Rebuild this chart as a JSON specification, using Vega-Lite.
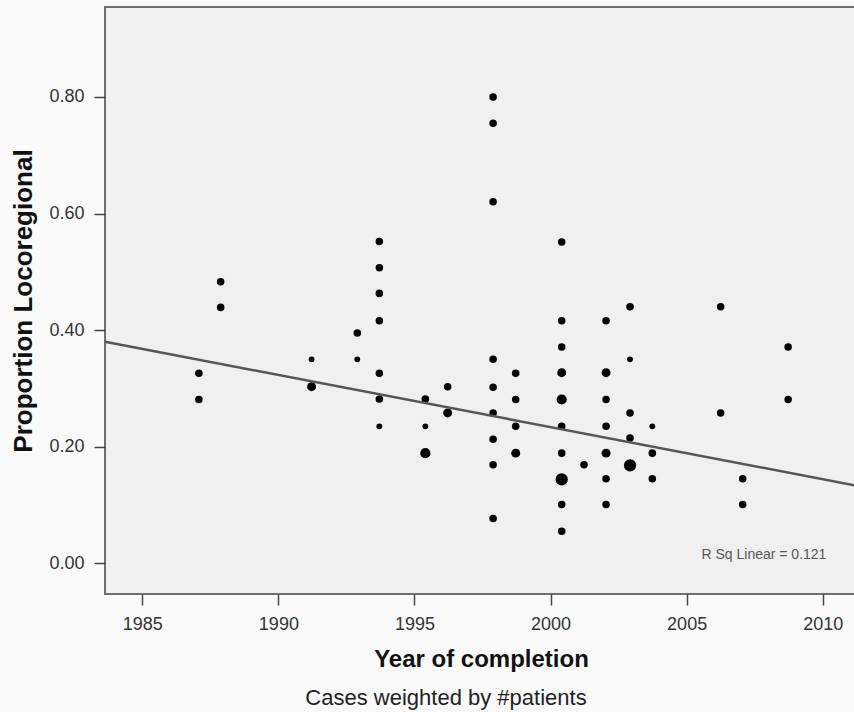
{
  "$schema": "https://vega.github.io/schema/vega-lite/v6.json",
  "width": 752,
  "height": 587,
  "autosize": {"type": "none"},
  "padding": {"left": 105, "top": 7, "right": 0, "bottom": 118},
  "background": "#fafafa",
  "title": {
    "text": "Cases weighted by #patients",
    "orient": "bottom",
    "anchor": "middle",
    "dx": -35,
    "offset": 17,
    "fontSize": 22,
    "fontWeight": "normal",
    "font": "Liberation Sans",
    "color": "#222222"
  },
  "config": {
    "view": {"fill": "#f0f0f0", "stroke": "#6e6e6e", "strokeWidth": 2},
    "axis": {
      "domain": false,
      "grid": false,
      "tickColor": "#444444",
      "tickWidth": 1.5,
      "tickSize": 11,
      "labelFont": "Liberation Sans",
      "labelFontSize": 18,
      "labelColor": "#333333",
      "labelPadding": 10,
      "titleFont": "Liberation Sans",
      "titleFontSize": 24,
      "titleFontWeight": "bold",
      "titleColor": "#111111"
    }
  },
  "datasets": {
    "points": [
      {"year": 1987.08, "proportion": 0.326, "n": 2},
      {"year": 1987.08, "proportion": 0.281, "n": 2},
      {"year": 1987.88, "proportion": 0.483, "n": 2},
      {"year": 1987.88, "proportion": 0.439, "n": 2},
      {"year": 1991.22, "proportion": 0.350, "n": 1},
      {"year": 1991.22, "proportion": 0.303, "n": 3},
      {"year": 1992.90, "proportion": 0.395, "n": 2},
      {"year": 1992.90, "proportion": 0.350, "n": 1},
      {"year": 1993.71, "proportion": 0.552, "n": 2},
      {"year": 1993.71, "proportion": 0.507, "n": 2},
      {"year": 1993.71, "proportion": 0.463, "n": 2},
      {"year": 1993.71, "proportion": 0.416, "n": 2},
      {"year": 1993.71, "proportion": 0.326, "n": 2},
      {"year": 1993.71, "proportion": 0.282, "n": 2},
      {"year": 1993.71, "proportion": 0.235, "n": 1},
      {"year": 1995.40, "proportion": 0.282, "n": 2},
      {"year": 1995.40, "proportion": 0.235, "n": 1},
      {"year": 1995.40, "proportion": 0.189, "n": 4},
      {"year": 1996.22, "proportion": 0.303, "n": 2},
      {"year": 1996.22, "proportion": 0.258, "n": 3},
      {"year": 1997.89, "proportion": 0.800, "n": 2},
      {"year": 1997.89, "proportion": 0.755, "n": 2},
      {"year": 1997.89, "proportion": 0.620, "n": 2},
      {"year": 1997.89, "proportion": 0.350, "n": 2},
      {"year": 1997.89, "proportion": 0.302, "n": 2},
      {"year": 1997.89, "proportion": 0.258, "n": 2},
      {"year": 1997.89, "proportion": 0.213, "n": 2},
      {"year": 1997.89, "proportion": 0.169, "n": 2},
      {"year": 1997.89, "proportion": 0.077, "n": 2},
      {"year": 1998.72, "proportion": 0.326, "n": 2},
      {"year": 1998.72, "proportion": 0.281, "n": 2},
      {"year": 1998.72, "proportion": 0.235, "n": 2},
      {"year": 1998.72, "proportion": 0.189, "n": 3},
      {"year": 2000.41, "proportion": 0.551, "n": 2},
      {"year": 2000.41, "proportion": 0.416, "n": 2},
      {"year": 2000.41, "proportion": 0.371, "n": 2},
      {"year": 2000.41, "proportion": 0.327, "n": 3},
      {"year": 2000.41, "proportion": 0.281, "n": 4},
      {"year": 2000.41, "proportion": 0.235, "n": 2},
      {"year": 2000.41, "proportion": 0.189, "n": 2},
      {"year": 2000.41, "proportion": 0.144, "n": 6},
      {"year": 2000.41, "proportion": 0.101, "n": 2},
      {"year": 2000.41, "proportion": 0.055, "n": 2},
      {"year": 2001.23, "proportion": 0.169, "n": 2},
      {"year": 2002.04, "proportion": 0.416, "n": 2},
      {"year": 2002.04, "proportion": 0.327, "n": 3},
      {"year": 2002.04, "proportion": 0.281, "n": 2},
      {"year": 2002.04, "proportion": 0.235, "n": 2},
      {"year": 2002.04, "proportion": 0.189, "n": 3},
      {"year": 2002.04, "proportion": 0.145, "n": 2},
      {"year": 2002.04, "proportion": 0.101, "n": 2},
      {"year": 2002.92, "proportion": 0.440, "n": 2},
      {"year": 2002.92, "proportion": 0.350, "n": 1},
      {"year": 2002.92, "proportion": 0.258, "n": 2},
      {"year": 2002.92, "proportion": 0.215, "n": 2},
      {"year": 2002.92, "proportion": 0.168, "n": 6},
      {"year": 2003.74, "proportion": 0.235, "n": 1},
      {"year": 2003.74, "proportion": 0.189, "n": 2},
      {"year": 2003.74, "proportion": 0.145, "n": 2},
      {"year": 2006.25, "proportion": 0.440, "n": 2},
      {"year": 2006.25, "proportion": 0.258, "n": 2},
      {"year": 2007.06, "proportion": 0.145, "n": 2},
      {"year": 2007.06, "proportion": 0.101, "n": 2},
      {"year": 2008.73, "proportion": 0.371, "n": 2},
      {"year": 2008.73, "proportion": 0.281, "n": 2}
    ],
    "fit": [
      {"year": 1983.63, "proportion": 0.380},
      {"year": 2011.26, "proportion": 0.133}
    ],
    "note": [
      {"year": 2007.84, "proportion": 0.0142, "label": "R Sq Linear = 0.121"}
    ]
  },
  "layer": [
    {
      "data": {"name": "points"},
      "mark": {"type": "circle", "color": "#000000", "opacity": 1},
      "encoding": {
        "x": {
          "field": "year",
          "type": "quantitative",
          "scale": {"domain": [1983.63, 2011.26], "zero": false, "nice": false},
          "axis": {
            "values": [1985, 1990, 1995, 2000, 2005, 2010],
            "format": "d",
            "title": "Year of completion",
            "titlePadding": 14
          }
        },
        "y": {
          "field": "proportion",
          "type": "quantitative",
          "scale": {"domain": [-0.0526, 0.9542], "zero": false, "nice": false},
          "axis": {
            "values": [0, 0.2, 0.4, 0.6, 0.8],
            "format": ".2f",
            "title": "Proportion Locoregional",
            "titleFontSize": 26,
            "titlePadding": 12
          }
        },
        "size": {
          "field": "n",
          "type": "quantitative",
          "scale": {"domain": [0, 6], "range": [10, 150]},
          "legend": null
        }
      }
    },
    {
      "data": {"name": "fit"},
      "mark": {"type": "line", "color": "#555555", "strokeWidth": 2.5},
      "encoding": {
        "x": {"field": "year", "type": "quantitative"},
        "y": {"field": "proportion", "type": "quantitative"}
      }
    },
    {
      "data": {"name": "note"},
      "mark": {"type": "text", "font": "Liberation Sans", "fontSize": 14, "color": "#555555", "align": "center", "baseline": "middle"},
      "encoding": {
        "x": {"field": "year", "type": "quantitative"},
        "y": {"field": "proportion", "type": "quantitative"},
        "text": {"field": "label"}
      }
    }
  ]
}
